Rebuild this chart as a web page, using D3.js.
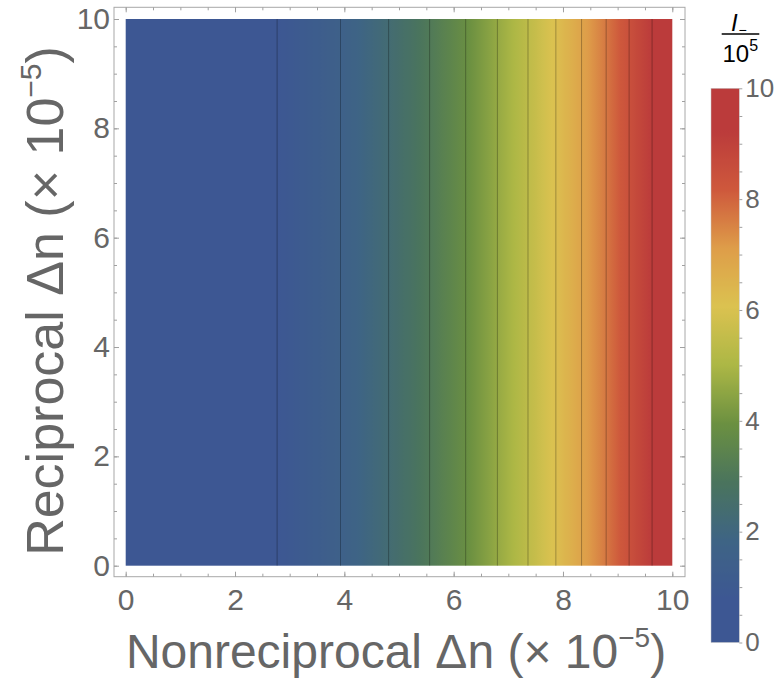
<!DOCTYPE html>
<html>
<head>
<meta charset="utf-8">
<script src="https://cdn.jsdelivr.net/npm/d3@7"></script>
<style>
body { margin: 0; background: #fff; }
text { font-family: "Liberation Sans", Arial, sans-serif; }
</style>
</head>
<body>
<svg id="chart" width="778" height="679"></svg>
<script>

// contour lines (x in units of 1e-5, level in units of 1e5)
var contourX = [2.77, 3.93, 4.81, 5.56, 6.22, 6.80, 7.36, 7.87, 8.34, 8.79, 9.21, 9.63]
var contourLevel = [0.77, 1.54, 2.31, 3.08, 3.85, 4.62, 5.38, 6.15, 6.92, 7.69, 8.46, 9.23]
var xTicks = [0, 2, 4, 6, 8, 10]
var yTicks = [0, 2, 4, 6, 8, 10]
var barTicks = [0, 2, 4, 6, 8, 10]
// "DarkRainbow" colour stops, 0..1 spread over the lowest..highest contour
var colorStops = [0, 0.125, 0.25, 0.375, 0.5, 0.625, 0.75, 0.875, 1]
var colorList = ["#3d5793", "#3e6485", "#4a745d", "#6b9041", "#acb745", "#dbc250", "#de9d49", "#ce583c", "#bb3b3b"]

var svg = d3.select("#chart")

var x = d3.scaleLinear().domain([0, 10]).range([125.7, 672.3])
var y = d3.scaleLinear().domain([0, 10]).range([565.7, 19])
var fx0 = 114, fx1 = 685, fy0 = 7.3, fy1 = 576.7

// value along x (the field does not change with y)
var valueAt = d3.scaleLinear().domain([0].concat(contourX, [10])).range([0].concat(contourLevel, [10]))
var lo = d3.min(contourLevel), hi = d3.max(contourLevel)
var norm = d3.scaleLinear().domain([lo, hi]).range([0, 1]).clamp(true)
var color = d3.scaleLinear().domain(colorStops).range(colorList)
function fill(v) { return color(norm(v)) }

var defs = svg.append("defs")
var steps = d3.range(0, 201)

var g1 = defs.append("linearGradient").attr("id", "field")
  .attr("x1", 0).attr("y1", 0).attr("x2", 1).attr("y2", 0)
g1.selectAll("stop").data(steps).enter().append("stop")
  .attr("offset", function(i){ return i / 200 })
  .attr("stop-color", function(i){ return fill(valueAt(i / 20)) })

var g2 = defs.append("linearGradient").attr("id", "bar")
  .attr("x1", 0).attr("y1", 1).attr("x2", 0).attr("y2", 0)
g2.selectAll("stop").data(steps).enter().append("stop")
  .attr("offset", function(i){ return i / 200 })
  .attr("stop-color", function(i){ return fill(i / 20) })

// field
svg.append("rect")
  .attr("x", x(0)).attr("y", y(10))
  .attr("width", x(10) - x(0)).attr("height", y(0) - y(10))
  .attr("fill", "url(#field)")

// contour lines
svg.selectAll(".contour").data(contourX).enter().append("line")
  .attr("class", "contour")
  .attr("x1", function(d){ return x(d) }).attr("x2", function(d){ return x(d) })
  .attr("y1", y(10)).attr("y2", y(0))
  .attr("stroke", "#000").attr("stroke-opacity", 0.28).attr("stroke-width", 1)

// frame
svg.append("rect")
  .attr("x", fx0).attr("y", fy0).attr("width", fx1 - fx0).attr("height", fy1 - fy0)
  .attr("fill", "none").attr("stroke", "#a8a8a8").attr("stroke-width", 1)

var minor = d3.range(0, 10.01, 0.5)
function frameAxis(axis, tx, ty, size, labels) {
  var g = svg.append("g").attr("transform", "translate(" + tx + "," + ty + ")")
    .call(axis.tickValues(labels ? labels : minor).tickSize(size).tickFormat(labels ? d3.format("d") : ""))
  g.select(".domain").remove()
  g.selectAll("line").attr("stroke", "#a0a0a0")
  g.selectAll("text").attr("fill", "#666").attr("font-size", 30)
  return g
}
frameAxis(d3.axisBottom(x), 0, fy1, -3, null)
frameAxis(d3.axisBottom(x).tickPadding(12), 0, fy1, -5, xTicks)
frameAxis(d3.axisTop(x), 0, fy0, -3, null)
frameAxis(d3.axisTop(x), 0, fy0, -5, xTicks).selectAll("text").remove()
frameAxis(d3.axisLeft(y), fx0, 0, -3, null)
frameAxis(d3.axisLeft(y).tickPadding(4), fx0, 0, -5, yTicks)
frameAxis(d3.axisRight(y), fx1, 0, -3, null)
frameAxis(d3.axisRight(y), fx1, 0, -5, yTicks).selectAll("text").remove()

// axis titles
var xt = svg.append("text").attr("x", 396).attr("y", 668)
  .attr("text-anchor", "middle").attr("font-size", 48).attr("fill", "#666")
xt.append("tspan").text("Nonreciprocal \u0394n (\u00d7 10")
xt.append("tspan").attr("font-size", 28).attr("dy", -21).text("\u22125")
xt.append("tspan").attr("dy", 21).text(")")

var yt = svg.append("text").attr("transform", "translate(63,301) rotate(-90)")
  .attr("text-anchor", "middle").attr("font-size", 52).attr("fill", "#666")
yt.append("tspan").text("Reciprocal \u0394n (\u00d7 10")
yt.append("tspan").attr("font-size", 30).attr("dy", -22).text("\u22125")
yt.append("tspan").attr("dy", 22).text(")")

// colour bar
var by = d3.scaleLinear().domain([0, 10]).range([642.5, 88.3])
svg.append("rect")
  .attr("x", 711).attr("y", by(10)).attr("width", 28.3).attr("height", by(0) - by(10))
  .attr("fill", "url(#bar)").attr("stroke", "#c8c8c8").attr("stroke-width", 0.5)
var bg = svg.append("g").attr("transform", "translate(739.3,0)")
  .call(d3.axisRight(by).tickValues(minor).tickSize(3).tickPadding(3)
    .tickFormat(function(d){ return barTicks.indexOf(d) >= 0 ? d : "" }))
bg.select(".domain").remove()
bg.selectAll("line").attr("stroke", "#a0a0a0")
bg.selectAll("text").attr("fill", "#666").attr("font-size", 26)

// colour bar title  I_ / 10^5
svg.append("text").attr("x", 731).attr("y", 31).attr("font-size", 24).attr("font-style", "italic").attr("fill", "#000").text("I")
svg.append("text").attr("x", 738.5).attr("y", 35).attr("font-size", 14).attr("fill", "#000").text("\u2212")
svg.append("line").attr("x1", 721.7).attr("x2", 759.3).attr("y1", 34).attr("y2", 34)
  .attr("stroke", "#000").attr("stroke-width", 1.5)
var lt = svg.append("text").attr("x", 722.5).attr("y", 62).attr("font-size", 24).attr("fill", "#000")
lt.append("tspan").text("10")
lt.append("tspan").attr("font-size", 16).attr("dy", -11).text("5")

</script>
</body>
</html>
